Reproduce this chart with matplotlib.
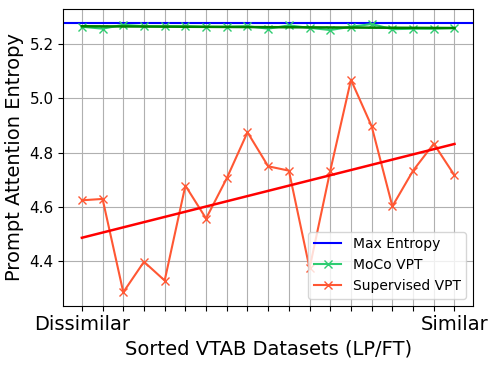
import numpy as np
import matplotlib
matplotlib.use("Agg")
import matplotlib.pyplot as plt

supervised = [4.625, 4.630, 4.287, 4.399, 4.330, 4.679, 4.558, 4.706, 4.875, 4.750,
              4.734, 4.375, 4.734, 5.068, 4.897, 4.603, 4.734, 4.833, 4.717]
moco = [5.263, 5.256, 5.270, 5.265, 5.265, 5.265, 5.263, 5.263, 5.265, 5.256,
        5.268, 5.259, 5.251, 5.263, 5.273, 5.254, 5.256, 5.256, 5.259]
max_entropy = np.log(196)
n = len(supervised)
x = np.arange(n)
tick_labels = ["Dissimilar"] + [""] * (n - 2) + ["Similar"]

fig, ax = plt.subplots(figsize=(4.98, 3.67), dpi=100)
fig.subplots_adjust(left=0.127, right=0.950, top=0.975, bottom=0.167)

ax.axhline(max_entropy, color="blue", label="Max Entropy")
ax.plot(x, moco, color="#2ecc71", marker="x", label="MoCo VPT")
ax.plot(x, supervised, color="#ff5733", marker="x", label="Supervised VPT")

p = np.polyfit(x, moco, 1)
ax.plot(x, np.polyval(p, x), color="green", linewidth=1.8)
p2 = np.polyfit(x, supervised, 1)
ax.plot(x, np.polyval(p2, x), color="red", linewidth=1.8)

ax.set_xticks(x)
ax.set_xticklabels(tick_labels, fontsize=14)
ax.tick_params(axis="y", labelsize=11)
ax.set_yticks([4.4, 4.6, 4.8, 5.0, 5.2])
ax.set_xlabel("Sorted VTAB Datasets (LP/FT)", fontsize=14)
ax.set_ylabel("Prompt Attention Entropy", fontsize=14)
ax.grid(True)
ax.legend(loc="lower right", fontsize=10)

fig.savefig("out.png", dpi=100)
